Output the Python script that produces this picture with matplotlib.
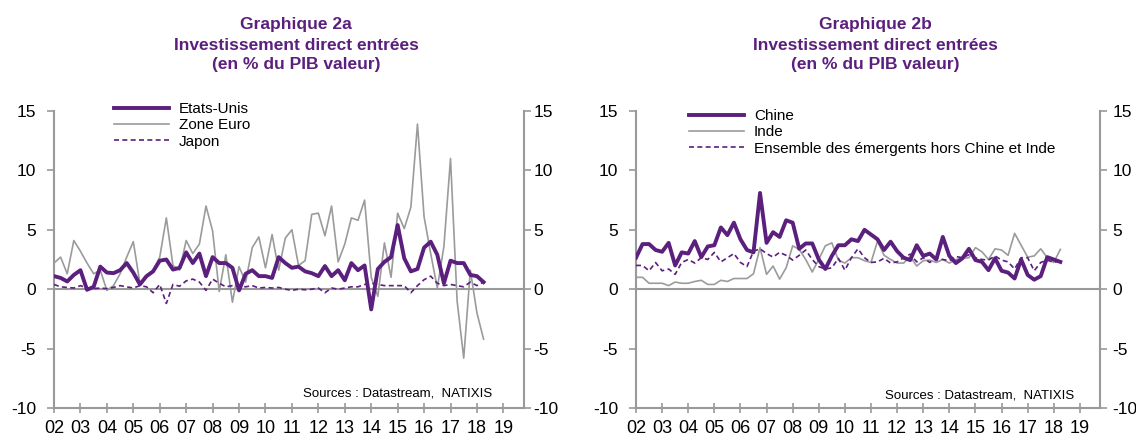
import matplotlib.pyplot as plt
import pandas as pd

plt.rcParams['font.family'] = ['Liberation Sans', 'DejaVu Sans']

PURPLE = '#5b1f7d'
GREY = '#9b9b9b'
AXIS = '#999999'

# quarterly data, 2002Q1 -> 2018Q2
quarters = pd.period_range('2002Q1', '2018Q2', freq='Q')
xq = [q.year + (q.quarter - 1) / 4 for q in quarters]

year_labels = [f'{y:02d}' for y in range(2, 20)]
year_ticks = list(range(2002, 2020))
y_ticks = [-10, -5, 0, 5, 10, 15]

# Graphique 2a
etats_unis = [1.1, 0.95, 0.65, 1.2, 1.6, -0.05, 0.2, 1.9, 1.4, 1.35, 1.6, 2.2,
              1.4, 0.4, 1.1, 1.5, 2.4, 2.5, 1.65, 1.8, 3.1, 2.2, 3.0, 1.1,
              2.7, 2.2, 2.2, 1.8, -0.1, 1.3, 1.6, 1.1, 1.1, 0.95, 2.7, 2.2,
              1.8, 1.9, 1.5, 1.35, 1.1, 1.95, 1.1, 1.6, 0.75, 2.2, 1.6, 2.0,
              -1.7, 1.7, 2.3, 2.7, 5.4, 2.6, 1.5, 1.7, 3.5, 4.0, 2.9, 0.5,
              2.4, 2.2, 2.2, 1.2, 1.1, 0.6]
zone_euro = [2.2, 2.7, 1.3, 4.1, 3.2, 2.2, 1.3, 1.6, -0.1, 0.3, 1.3, 2.7,
             4.0, 0.5, 1.0, 1.6, 2.7, 6.0, 2.0, 1.6, 4.1, 3.0, 3.8, 7.0,
             4.9, -0.2, 2.9, -1.1, 1.9, 0.6, 3.5, 4.4, 1.8, 4.6, 1.6, 4.3,
             5.0, 2.0, 2.4, 6.3, 6.4, 4.5, 7.0, 2.3, 3.8, 6.0, 5.8, 7.5,
             1.0, -0.6, 3.9, 1.0, 6.4, 5.1, 6.9, 13.9, 6.1, 3.0, 0.1, 3.6,
             11.0, -1.0, -5.8, 1.6, -2.0, -4.2]
japon = [0.4, 0.2, 0.15, 0.1, 0.3, 0.1, 0.05, 0.1, 0.05, 0.15, 0.3, 0.2,
         0.1, 0.3, 0.2, -0.3, 0.4, -1.2, 0.4, 0.25, 0.7, 0.85, 0.6, -0.1,
         0.85, 0.5, 0.2, 0.3, 0.3, 0.2, 0.3, 0.1, 0.15, 0.1, 0.15, 0.0,
         -0.1, 0.0, -0.05, 0.0, 0.1, -0.3, 0.1, 0.0, 0.1, 0.2, 0.2, 0.4,
         0.5, 0.4, 0.3, 0.3, 0.3, 0.3, -0.3, 0.3, 0.8, 1.1, 0.5, 0.3,
         0.4, 0.3, 0.2, 0.6, 0.3, 0.6]

# Graphique 2b
chine = [2.65, 3.8, 3.8, 3.3, 3.15, 3.9, 2.0, 3.1, 3.0, 4.05, 2.7, 3.6,
         3.7, 5.2, 4.55, 5.6, 4.2, 3.3, 3.1, 8.1, 3.9, 4.8, 4.4, 5.8,
         5.6, 3.4, 3.85, 3.85, 2.5, 1.7, 2.8, 3.7, 3.7, 4.2, 4.05, 5.0,
         4.6, 4.2, 3.3, 4.0, 3.2, 2.65, 2.45, 3.7, 2.8, 3.0, 2.5, 4.4,
         2.8, 2.2, 2.6, 3.4, 2.45, 2.3, 1.6, 2.6, 1.55, 1.4, 0.9, 2.5,
         1.2, 0.8, 1.1, 2.7, 2.5, 2.3]
inde = [1.0, 1.0, 0.5, 0.5, 0.5, 0.3, 0.6, 0.5, 0.5, 0.65, 0.75, 0.4,
        0.4, 0.75, 0.65, 0.9, 0.9, 0.9, 1.3, 3.5, 1.25, 1.95, 0.85, 1.8,
        3.65, 3.35, 2.5, 1.45, 2.5, 3.65, 3.9, 2.45, 2.2, 2.65, 2.65, 2.4,
        2.25, 4.05, 2.85, 2.5, 2.2, 2.2, 2.75, 1.95, 2.4, 2.45, 2.25, 2.5,
        2.2, 2.5, 2.6, 2.65, 3.5, 3.15, 2.5, 3.4, 3.3, 2.85, 4.7, 3.7,
        2.7, 2.8, 3.4, 2.65, 2.25, 3.35]
emergents = [2.0, 2.0, 1.55, 2.25, 1.55, 1.7, 1.25, 2.25, 2.5, 2.2, 2.65, 2.5,
             3.1, 2.3, 2.65, 3.0, 2.25, 1.9, 3.2, 3.4, 3.0, 2.7, 3.1, 2.85,
             2.45, 2.85, 3.3, 2.5, 1.9, 1.7, 1.8, 2.6, 1.6, 2.65, 3.4, 2.65,
             2.25, 2.3, 2.6, 2.2, 2.3, 2.65, 2.95, 2.3, 2.65, 2.25, 2.65, 2.5,
             2.4, 2.75, 2.65, 2.9, 2.65, 2.5, 2.45, 2.8, 2.45, 2.3, 1.7, 2.65,
             2.65, 1.55, 2.25, 2.45, 2.25, 2.4]

W, H = 1136, 441
fig = plt.figure(figsize=(W / 100, H / 100), dpi=100)


def make_axes(x0, x1, xmax, pad_left, pad_right):
    ax = fig.add_axes([x0 / W, 1 - 408 / H, (x1 - x0) / W, (408 - 111) / H])
    ax.set_xlim(2002, xmax)
    ax.set_ylim(-10, 15)
    ax.set_yticks(y_ticks)
    ax.set_yticklabels([str(v) for v in y_ticks])
    ax.set_xticks(year_ticks)
    ax.set_xticklabels(year_labels)
    ax.spines['top'].set_visible(False)
    for s in ['left', 'right', 'bottom']:
        ax.spines[s].set_color(AXIS)
        ax.spines[s].set_linewidth(1.5)
    ax.axhline(0, color=AXIS, lw=1.5, zorder=1)
    ax.tick_params(axis='y', direction='out', length=5, width=1.2, color=AXIS,
                   labelsize=12.5, pad=pad_left)
    ax.tick_params(axis='x', direction='inout', length=7, width=1.2, color=AXIS,
                   labelsize=13, pad=5)
    # right-hand scale
    axr = ax.twinx()
    axr.set_ylim(-10, 15)
    axr.set_yticks(y_ticks)
    axr.set_yticklabels([str(v) for v in y_ticks])
    axr.tick_params(axis='y', direction='out', length=5, width=1.2, color=AXIS,
                    labelsize=12.5, pad=pad_right)
    for s in axr.spines.values():
        s.set_visible(False)
    return ax


def add_legend(ax, x_px, top_px, handles, labels):
    ax.legend(handles, labels, loc='upper left',
              bbox_to_anchor=(x_px / W, 1 - top_px / H),
              bbox_transform=fig.transFigure, frameon=False, fontsize=11,
              handlelength=3.6, handletextpad=0.65, labelspacing=0.15,
              borderpad=0.2, borderaxespad=0)


def add_title(x_px, name):
    for y_px, txt in [(25, name), (45, 'Investissement direct entrées'),
                      (64, '(en % du PIB valeur)')]:
        fig.text(x_px / W, 1 - y_px / H, txt, ha='center', va='center',
                 color=PURPLE, fontsize=12.5, fontweight='bold')


# ---- Graphique 2a
ax1 = make_axes(54, 524, 2019.78, 8, 2)
l_ze, = ax1.plot(xq, zone_euro, color=GREY, lw=1.2, zorder=3)
l_jp, = ax1.plot(xq, japon, color=PURPLE, lw=1.2, ls=(0, (3, 2)), zorder=3)
l_us, = ax1.plot(xq, etats_unis, color=PURPLE, lw=2.8, zorder=4)
add_legend(ax1, 111, 99, [l_us, l_ze, l_jp], ['Etats-Unis', 'Zone Euro', 'Japon'])
ax1.text(492 / W, 1 - 393 / H, 'Sources : Datastream,  NATIXIS',
         transform=fig.transFigure, ha='right', va='center', fontsize=9.5)
add_title(296, 'Graphique 2a')

# ---- Graphique 2b
ax2 = make_axes(636, 1100, 2019.77, 8, 4)
l_in, = ax2.plot(xq, inde, color=GREY, lw=1.2, zorder=3)
l_em, = ax2.plot(xq, emergents, color=PURPLE, lw=1.2, ls=(0, (3, 2)), zorder=3)
l_ch, = ax2.plot(xq, chine, color=PURPLE, lw=2.8, zorder=4)
add_legend(ax2, 686, 106, [l_ch, l_in, l_em],
           ['Chine', 'Inde', 'Ensemble des émergents hors Chine et Inde'])
ax2.text(1074 / W, 1 - 396 / H, 'Sources : Datastream,  NATIXIS',
         transform=fig.transFigure, ha='right', va='center', fontsize=9.5)
add_title(875, 'Graphique 2b')

fig.savefig('out.png', dpi=100)
